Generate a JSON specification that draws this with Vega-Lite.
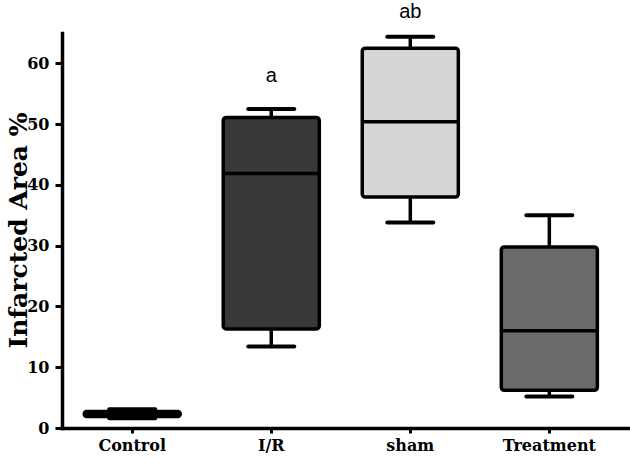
{
  "$schema": "https://vega.github.io/schema/vega-lite/v6.json",
  "autosize": {"type": "none"},
  "padding": {"left": 62, "top": 33, "right": 2, "bottom": 36},
  "width": 566,
  "height": 395,
  "background": "white",
  "config": {"view": {"stroke": null}},
  "data": {
    "values": [
      {"group": "Control", "lower": 1.6, "q1": 1.9, "median": 2.3, "q3": 2.7, "upper": 3.1, "letter": "", "letterAt": 0},
      {"group": "I/R", "lower": 13.4, "q1": 16.3, "median": 41.9, "q3": 51.1, "upper": 52.5, "letter": "a", "letterAt": 58},
      {"group": "sham", "lower": 33.8, "q1": 38.0, "median": 50.4, "q3": 62.5, "upper": 64.4, "letter": "ab", "letterAt": 68.4},
      {"group": "Treatment", "lower": 5.2, "q1": 6.2, "median": 16.0, "q3": 29.8, "upper": 35.0, "letter": "", "letterAt": 0}
    ]
  },
  "encoding": {
    "x": {
      "field": "group",
      "type": "nominal",
      "sort": ["Control", "I/R", "sham", "Treatment"],
      "scale": {"paddingInner": 0.309, "paddingOuter": 0.19, "align": 0.42},
      "axis": {
        "title": null,
        "labelAngle": 0,
        "labelFont": "DejaVu Serif",
        "labelFontWeight": "bold",
        "labelFontSize": 16,
        "labelColor": "black",
        "labelPadding": 4,
        "domainColor": "black",
        "domainWidth": 3.5,
        "domainCap": "square",
        "tickColor": "black",
        "tickWidth": 3,
        "tickSize": 5,
        "grid": false
      }
    }
  },
  "layer": [
    {
      "mark": {"type": "rule", "color": "black", "strokeWidth": 3.5},
      "encoding": {
        "y": {
          "field": "q3",
          "type": "quantitative",
          "scale": {"domain": [0, 65], "nice": false},
          "axis": {
            "title": "Infarcted Area %",
            "titleFont": "DejaVu Serif",
            "titleFontWeight": "bold",
            "titleFontSize": 25,
            "titleColor": "black",
            "titleX": -44,
            "titleY": 197,
            "titleAngle": -90,
            "titleAlign": "center",
            "titleBaseline": "middle",
            "values": [0, 5, 10, 15, 20, 25, 30, 35, 40, 45, 50, 55, 60, 65],
            "labelExpr": "datum.value % 10 === 0 ? datum.label : ''",
            "labelFont": "DejaVu Serif",
            "labelFontWeight": "bold",
            "labelFontSize": 16,
            "labelColor": "black",
            "labelPadding": 6,
            "tickSize": {"condition": {"test": "datum.value % 10 === 0", "value": 7}, "value": 4},
            "tickWidth": 3,
            "tickColor": "black",
            "domainColor": "black",
            "domainWidth": 3.5,
            "domainCap": "square",
            "grid": false
          }
        },
        "y2": {"field": "upper"}
      }
    },
    {
      "mark": {"type": "rule", "color": "black", "strokeWidth": 3.5},
      "encoding": {
        "y": {"field": "lower", "type": "quantitative"},
        "y2": {"field": "q1"}
      }
    },
    {
      "mark": {"type": "bar", "stroke": "black", "strokeWidth": 3.5, "cornerRadius": 3},
      "encoding": {
        "y": {"field": "q1", "type": "quantitative"},
        "y2": {"field": "q3"},
        "fill": {
          "field": "group",
          "type": "nominal",
          "scale": {"domain": ["Control", "I/R", "sham", "Treatment"], "range": ["#000000", "#383838", "#d6d6d6", "#6a6a6a"]},
          "legend": null
        }
      }
    },
    {
      "mark": {"type": "tick", "color": "black", "size": 96, "thickness": 3.5, "opacity": 1},
      "encoding": {"y": {"field": "median", "type": "quantitative"}}
    },
    {
      "mark": {"type": "tick", "color": "black", "size": 50, "thickness": 4, "opacity": 1, "cornerRadius": 2},
      "encoding": {"y": {"field": "upper", "type": "quantitative"}}
    },
    {
      "mark": {"type": "tick", "color": "black", "size": 50, "thickness": 4, "opacity": 1, "cornerRadius": 2},
      "encoding": {"y": {"field": "lower", "type": "quantitative"}}
    },
    {
      "transform": [{"filter": "datum.letter !== ''"}],
      "mark": {"type": "text", "font": "Liberation Sans", "fontSize": 20, "color": "black", "baseline": "middle", "align": "center"},
      "encoding": {
        "y": {"field": "letterAt", "type": "quantitative"},
        "text": {"field": "letter"}
      }
    }
  ]
}
